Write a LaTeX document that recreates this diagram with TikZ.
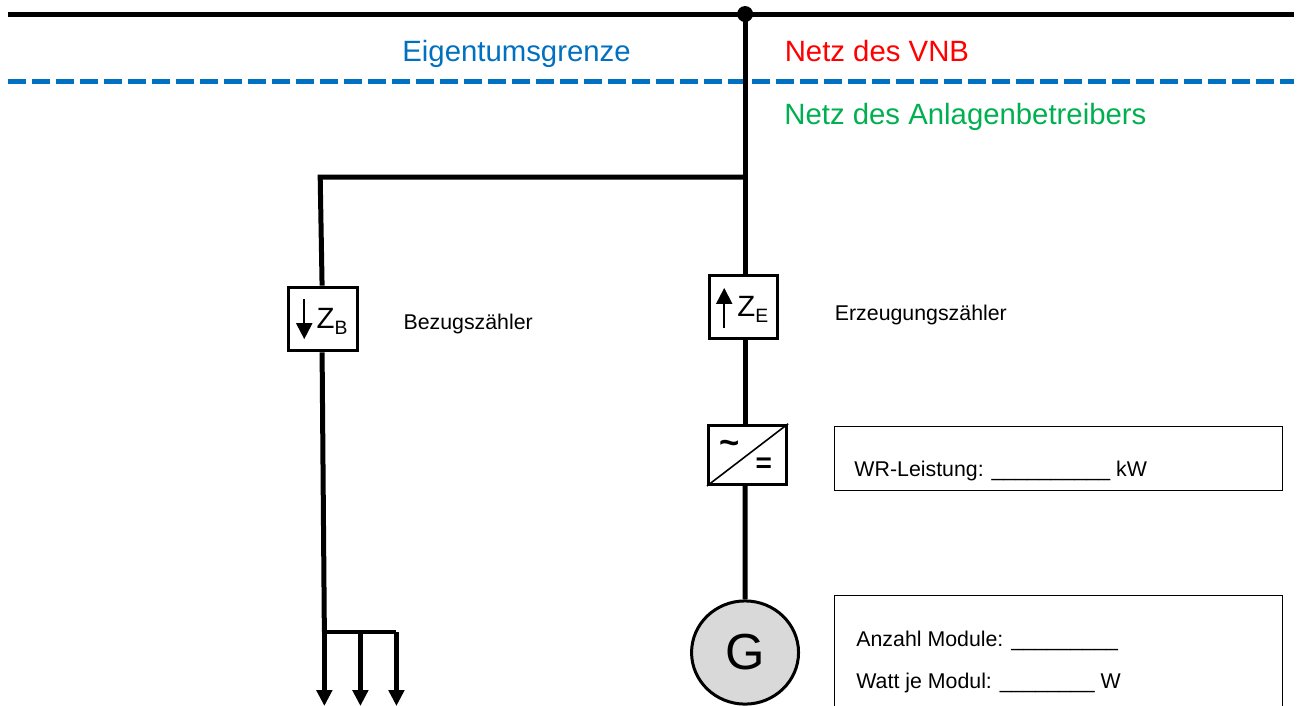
\documentclass[tikz,border=0pt]{standalone}
\usepackage{xcolor}
\usepackage{fontspec}
\setmainfont{Liberation Sans}
\usetikzlibrary{arrows.meta, positioning, shapes.geometric}
\definecolor{grenzblau}{HTML}{0070C0}
\definecolor{netzgruen}{HTML}{00B050}
\definecolor{gengrau}{HTML}{D9D9D9}
\newcommand{\zaehler}[1]{Z\raisebox{-4.5pt}{\fontsize{14.5}{15}\selectfont #1}}
\tikzset{
  leitung/.style={line width=3.75pt},
  abgang/.style={line width=3.4pt, -{Triangle[length=12pt,width=11.5pt]}},
  richtung/.style={line width=1.5pt, -{Triangle[length=12pt,width=12pt]}},
  geraet/.style={rectangle, draw, line width=2.25pt, fill=white, inner sep=0pt},
  infobox/.style={rectangle, draw, line width=0.75pt, inner sep=0pt},
  grosstext/.style={anchor=base west, inner sep=0pt, font=\fontsize{22}{26}\selectfont},
  kleintext/.style={anchor=base west, inner sep=0pt, font=\fontsize{16}{19}\selectfont},
  zsymbol/.style={anchor=base west, inner sep=0pt, font=\fontsize{22}{26}\selectfont}
}

\begin{document}
\begin{tikzpicture} [on grid]
\useasboundingbox (0,0) rectangle (974.25pt,-529.5pt);
\clip (0,0) rectangle (974.25pt,-529.5pt);

\node (dot) [circle, fill=black, minimum size=12pt, inner sep=0pt] at (19.64,-0.37) {};
\coordinate [left=19.43cm of dot] (busW);
\coordinate [right=14.47cm of dot] (busE);
\coordinate [below=1.77cm of busW] (grenzeW);
\coordinate [below=1.77cm of busE] (grenzeE);
\coordinate [below=4.30cm of dot] (tee);
\coordinate [left=11.20cm of tee] (corner);

\node (zB) [geraet, minimum width=1.82cm, minimum height=1.68cm, below=8.04cm of dot, xshift=-11.12cm] {};
\node (zE) [geraet, minimum width=1.79cm, minimum height=1.66cm, below=7.72cm of dot, xshift=-0.04cm] {};
\node (inv) [geraet, minimum width=2.06cm, minimum height=1.56cm, below=3.90cm of zE, xshift=0.105cm] {};
\node (gen) [ellipse, draw, line width=2.25pt, fill=gengrau, inner sep=0pt, minimum width=2.82cm, minimum height=2.72cm,
  below=5.21cm of inv, xshift=-0.066cm, font=\fontsize{38}{42}\selectfont] {G};

\coordinate [below=8.25cm of zB, xshift=0.03cm] (fork);
\coordinate [right=0.95cm of fork] (forkM);
\coordinate [right=1.90cm of fork] (forkR);
\coordinate [below=1.95cm of fork] (last1);
\coordinate [below=1.95cm of forkM] (last2);
\coordinate [below=1.95cm of forkR] (last3);

\node (wrBox) [infobox, minimum width=11.81cm, minimum height=1.69cm, right=8.20cm of inv, yshift=-0.105cm] {};
\node (modBox) [infobox, minimum width=11.81cm, minimum height=3.56cm, anchor=north west] at (wrBox.north west |- 0,-15.68) {};

\node (eigentum) [grosstext, text=grenzblau] at (10.60,-1.63) {Eigentumsgrenze};
\node (vnb) [grosstext, text=red] at (20.68,-1.63) {Netz des VNB};
\node (betreiber) [grosstext, text=netzgruen] at (20.67,-3.27) {Netz des Anlagenbetreibers};
\node (bezug) [kleintext] at (10.63,-8.68) {Bezugszähler};
\node (erzeug) [kleintext] at (22.00,-8.44) {Erzeugungszähler};
\node (wrText) [kleintext] at ([xshift=0.53cm,yshift=-0.47cm]wrBox.west) {WR-Leistung: \_\_\_\_\_\_\_\_\_\_ kW};
\node (anzahl) [kleintext] at ([xshift=0.58cm,yshift=-1.35cm]modBox.north west) {Anzahl Module: \_\_\_\_\_\_\_\_\_};
\node (watt) [kleintext] at ([xshift=0.58cm,yshift=-2.48cm]modBox.north west) {Watt je Modul: \_\_\_\_\_\_\_\_ W};

\node (zBname) [zsymbol] at ([xshift=-0.18cm,yshift=-0.24cm]zB.center) {\zaehler{B}};
\node (zEname) [zsymbol] at ([xshift=-0.17cm,yshift=-0.24cm]zE.center) {\zaehler{E}};
\node (tilde) [inner sep=0pt, font=\bfseries\fontsize{26}{30}\selectfont] at ([xshift=-0.46cm,yshift=0.19cm]inv.center) {\textasciitilde};
\node (gleich) [inner sep=0pt, font=\bfseries\fontsize{21}{26}\selectfont] at ([xshift=0.43cm,yshift=-0.26cm]inv.center) {=};

\draw [grenzblau, line width=3.75pt, dash pattern=on 13.5pt off 4.5pt] (grenzeW) -- (grenzeE);
\draw [leitung] (busW) -- (busE);
\draw [leitung] (dot.center) -- (dot |- zE.north);
\draw [leitung] (dot |- zE.south) -- (dot |- inv.north);
\draw [leitung] (dot |- inv.south) -- (gen.north);
\draw [leitung] (tee) -- (corner) -- ([xshift=-0.03cm]zB.north);
\draw [leitung] ([xshift=-0.03cm]zB.south) -- (fork);

\path [abgang]
    (fork) edge (last1)
    (forkM) edge (last2)
    (forkR) edge (last3);
\draw [line width=3.4pt] (fork) -- (forkR);

\draw [richtung] ([xshift=-0.50cm,yshift=0.53cm]zB.center) -- ([xshift=-0.50cm,yshift=-0.53cm]zB.center);
\draw [richtung] ([xshift=-0.51cm,yshift=-0.55cm]zE.center) -- ([xshift=-0.51cm,yshift=0.50cm]zE.center);
\draw [line width=1.2pt] (inv.south west) -- (inv.north east);
\end{tikzpicture}
\end{document}
